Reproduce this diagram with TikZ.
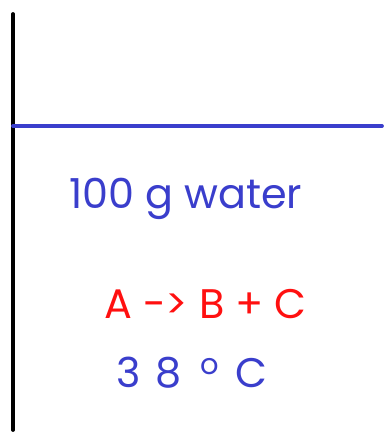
\documentclass[tikz,border=0pt]{standalone}
\usepackage{fontspec}
\setmainfont{Poppins}
\usetikzlibrary{positioning}
\definecolor{ink}{HTML}{3A3ECC}
\definecolor{hot}{HTML}{FF1010}
\tikzset{
  wall/.style={line width=2.8pt,black,line cap=round},
  surface/.style={line width=2.8pt,ink,line cap=round},
  labeltext/.style={inner sep=0pt,anchor=base west,font=\fontsize{31}{36}\selectfont}
}
\begin{document}
\begin{tikzpicture}[x=0.75pt,y=-0.75pt]
\useasboundingbox (0,0) rectangle (384,440);
\coordinate (top) at (13,14);
\coordinate (bottom) at (13,430);
\coordinate (left) at (13,126);
\coordinate (right) at (382,126);
\draw[wall] (top)--(bottom);
\draw[surface] (left)--(right);
\node[labeltext,text=ink] (water) at (69,208) {100 g water};
\node[labeltext,text=hot] (reaction) at (104,318) {A -> B + C};
\node[labeltext,text=ink] (temp) at (116,387)
  {3\hspace{11pt}8\hspace{14pt}\textsuperscript{o}\hspace{12pt}C};
\end{tikzpicture}
\end{document}
